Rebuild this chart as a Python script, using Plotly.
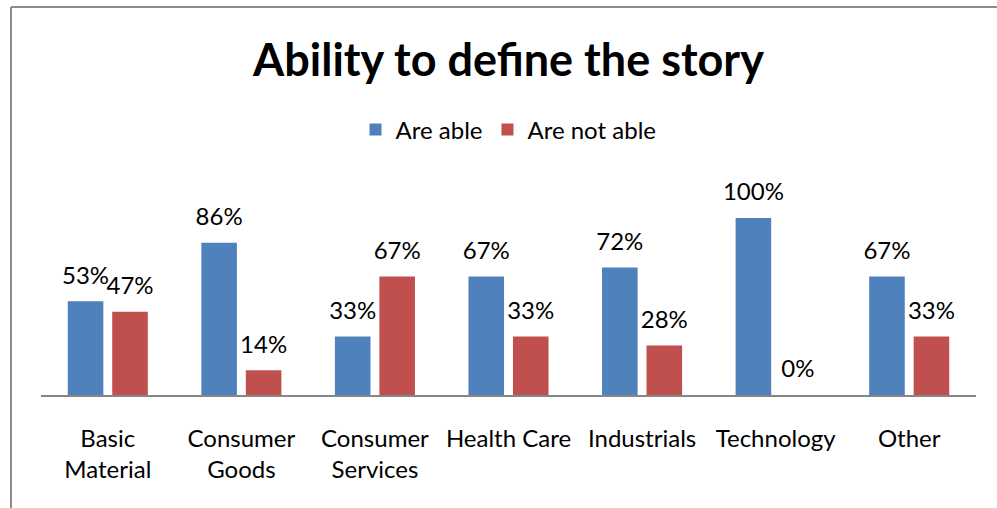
import plotly.graph_objects as go

# Survey results by sector (percent of respondents)
categories = ["Basic Material", "Consumer Goods", "Consumer Services",
              "Health Care", "Industrials", "Technology", "Other"]
tick_labels = ["Basic<br>Material", "Consumer<br>Goods", "Consumer<br>Services",
               "Health Care", "Industrials", "Technology", "Other"]
are_able = [53, 86, 33, 67, 72, 100, 67]
are_not_able = [47, 14, 67, 33, 28, 0, 33]

FONT = "Lato"
BLUE = "#4F81BD"
RED = "#C0504D"

fig = go.Figure()
series = [("Are able", are_able, BLUE), ("Are not able", are_not_able, RED)]
for name, vals, color in series:
    fig.add_trace(go.Bar(
        name=name, x=categories, y=vals, offsetgroup=name,
        marker=dict(color=color, line=dict(width=0)),
        hoverinfo="skip",
    ))
# value labels: invisible markers push the text a little above each bar top
for name, vals, color in series:
    fig.add_trace(go.Scatter(
        x=categories, y=vals, offsetgroup=name, mode="markers+text",
        text=[f"{v}%" for v in vals], textposition="top center",
        marker=dict(size=17, opacity=0), cliponaxis=False,
        textfont=dict(family=FONT, size=24, color="#000000"),
        showlegend=False, hoverinfo="skip",
    ))

# outer chart frame (left and top edges visible)
frame = dict(type="line", xref="paper", yref="paper",
             line=dict(color="#8C8C8C", width=2))
fig.add_shape(**frame, x0=-30 / 935, x1=-30 / 935, y0=-1.0, y1=(395 - 7) / 205)
fig.add_shape(**frame, x0=-30 / 935, x1=1.2, y0=(395 - 7) / 205, y1=(395 - 7) / 205)

fig.update_layout(
    width=997, height=508,
    margin=dict(l=41, r=21, t=190, b=113),
    paper_bgcolor="white", plot_bgcolor="white",
    barmode="group", bargap=0.334, bargroupgap=0.2,
    scattermode="group", scattergap=0.334,
    font=dict(family=FONT, size=24, color="#000000"),
    title=dict(text="<b>Ability to define the story</b>",
               x=0.51, xanchor="center", y=1 - 60 / 508, yanchor="middle",
               font=dict(family=FONT, size=45, color="#000000")),
    legend=dict(orientation="h", x=0.50, xanchor="center",
                y=(395 - 130) / 205, yanchor="middle",
                font=dict(family=FONT, size=24), itemwidth=30,
                traceorder="normal"),
    showlegend=True,
)
fig.update_xaxes(
    tickmode="array", tickvals=categories, ticktext=tick_labels,
    showline=True, linecolor="#868686", linewidth=2,
    showgrid=False, ticks="", ticklabelstandoff=21,
    tickfont=dict(family=FONT, size=24, color="#000000"),
)
fig.update_yaxes(range=[0, (395 - 190) / 1.77], visible=False, showgrid=False)

fig.write_html("out.html")
